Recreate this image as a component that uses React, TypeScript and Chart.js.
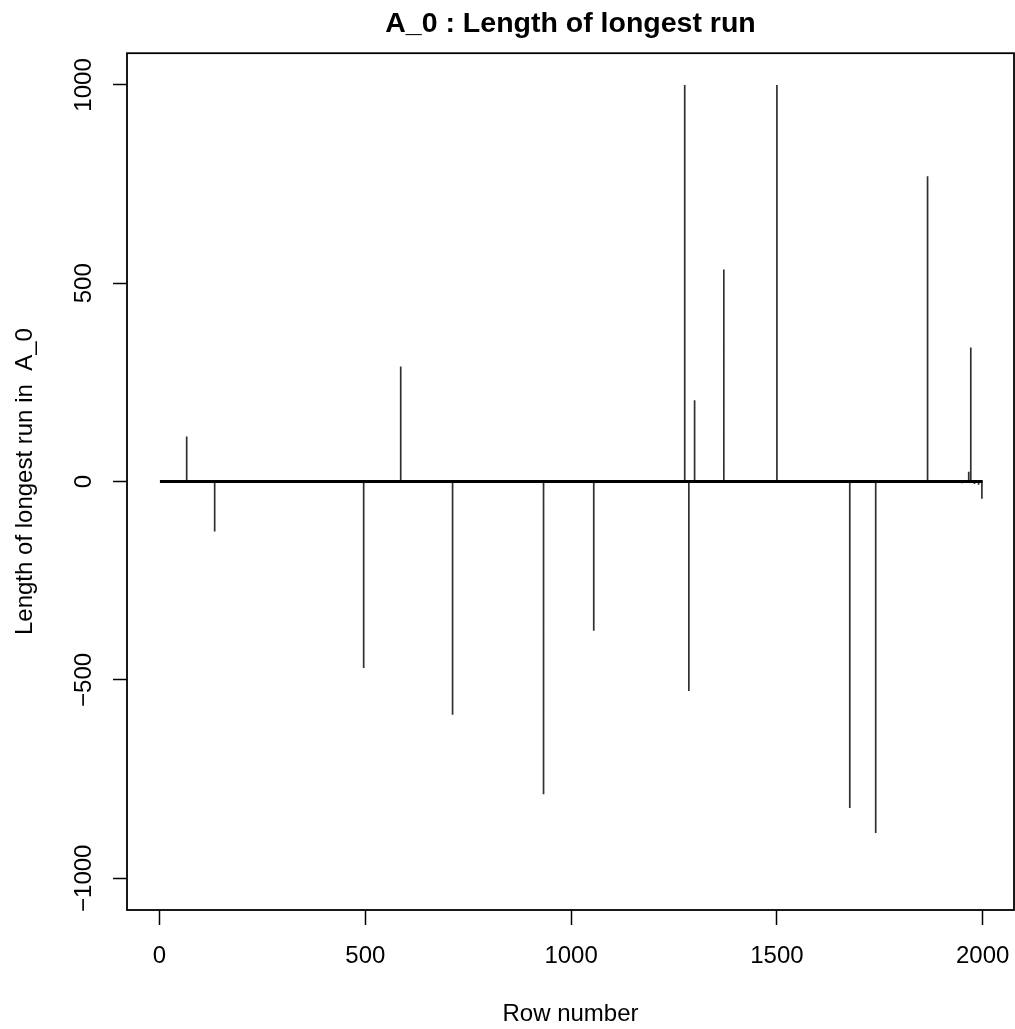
import React, { useEffect, useRef } from "react";
import { Chart, registerables } from "chart.js";

Chart.register(...registerables);

// Data
const rowNumbers = [66, 134, 496, 586, 712, 933, 1055, 1276, 1286, 1300, 1371, 1500, 1677, 1740, 1866, 1925, 1950, 1966, 1971, 1980, 1990, 1998];
const runLengths = [114, -126, -470, 290, -588, -788, -376, 1000, -528, 205, 535, 1000, -823, -886, 770, -3, -4, 25, 338, -6, -8, -43];
const baselineRows = [1, 2000];
const xTickValues = [0, 500, 1000, 1500, 2000];
const yTickValues = [-1000, -500, 0, 500, 1000];

const FONT = "'Liberation Sans', Arial, Helvetica, sans-serif";

export default function App() {
  const ref = useRef<HTMLCanvasElement>(null);

  useEffect(() => {
    if (!ref.current) return;
    const spikeData: { x: number; y: number | null }[] = [];
    rowNumbers.forEach((r, i) => {
      spikeData.push({ x: r, y: 0 }, { x: r, y: runLengths[i] }, { x: r, y: null });
    });
    const baselineData = baselineRows.map((r) => ({ x: r, y: 0 }));

    const boxPlugin = {
      id: "plotBox",
      afterDraw(chart: any) {
        const { ctx, chartArea: a } = chart;
        ctx.save();
        ctx.strokeStyle = "#000";
        ctx.lineWidth = 1.8;
        ctx.strokeRect(a.left, a.top, a.right - a.left, a.bottom - a.top);
        ctx.restore();
      },
    };

    const chart = new Chart(ref.current, {
      type: "line",
      data: {
        datasets: [
          {
            data: baselineData as any,
            borderColor: "#000",
            borderWidth: 3,
            pointRadius: 0,
          },
          {
            data: spikeData as any,
            borderColor: "#303030",
            borderWidth: 1.7,
            pointRadius: 0,
            spanGaps: false,
          },
        ],
      },
      options: {
        animation: false,
        responsive: false,
        layout: { padding: { left: 0, right: 1, top: 0, bottom: 0 } },
        plugins: {
          legend: { display: false },
          tooltip: { enabled: false },
          title: {
            display: true,
            fullSize: false,
            text: "A_0 : Length of longest run",
            color: "#000",
            font: { family: FONT, size: 28.5, weight: "bold" },
            padding: { top: 7, bottom: 12 },
          },
        },
        scales: {
          x: {
            type: "linear",
            min: -79,
            max: 2076,
            afterBuildTicks: (s: any) => {
              s.ticks = xTickValues.map((v) => ({ value: v }));
            },
            afterFit: (s: any) => {
              s.height = 119;
              s.paddingLeft = 0;
              s.paddingRight = 0;
            },
            border: { display: false },
            grid: {
              drawOnChartArea: false,
              drawTicks: true,
              tickLength: 15,
              tickColor: "#000",
              tickWidth: 1.5,
            },
            ticks: {
              color: "#000",
              font: { family: FONT, size: 24 },
              padding: 17,
              maxRotation: 0,
              autoSkip: false,
              callback: (v: any) => String(v),
            },
            title: {
              display: true,
              text: "Row number",
              color: "#000",
              font: { family: FONT, size: 24 },
              padding: { top: 0, bottom: 0 },
            },
          },
          y: {
            type: "linear",
            min: -1080,
            max: 1080,
            afterBuildTicks: (s: any) => {
              s.ticks = yTickValues.map((v) => ({ value: v }));
            },
            afterFit: (s: any) => {
              s.width = 127;
              s.paddingTop = 0;
              s.paddingBottom = 0;
            },
            border: { display: false },
            grid: {
              drawOnChartArea: false,
              drawTicks: true,
              tickLength: 14,
              tickColor: "#000",
              tickWidth: 1.5,
            },
            ticks: {
              color: "#000",
              font: { family: FONT, size: 24 },
              padding: -5,
              minRotation: 90,
              maxRotation: 90,
              crossAlign: "center",
              autoSkip: false,
              callback: (v: any) => String(v).replace("-", "\u2212"),
            },
            title: {
              display: true,
              text: "Length of longest run in  A_0",
              color: "#000",
              font: { family: FONT, size: 24 },
              padding: { top: 11, bottom: 0 },
            },
          },
        },
      },
      plugins: [boxPlugin],
    });
    return () => chart.destroy();
  }, []);

  return (
    <div style={{ position: "fixed", left: 0, top: 0, width: 1015, height: 1029, background: "#fff" }}>
      <canvas ref={ref} width={1015} height={1029} style={{ display: "block" }} />
    </div>
  );
}
